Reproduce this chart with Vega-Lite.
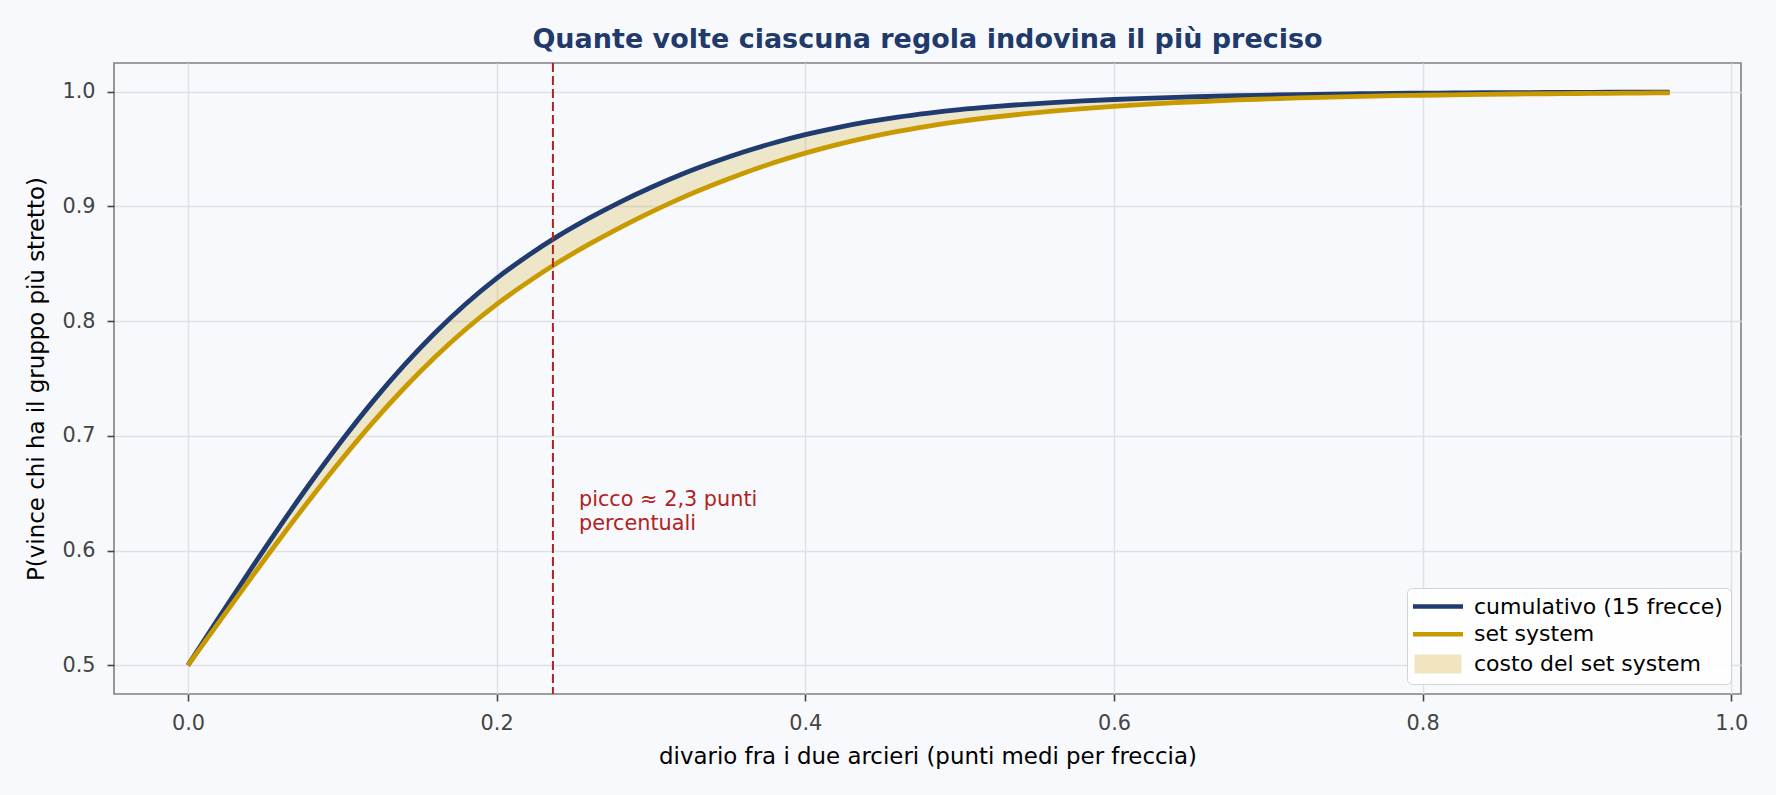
{
  "$schema": "https://vega.github.io/schema/vega-lite/v6.json",
  "width": 1627,
  "height": 631,
  "autosize": {"type": "none"},
  "padding": {"left": 114, "top": 63, "right": 35, "bottom": 101},
  "background": "#f7f9fc",
  "title": {
    "text": "Quante volte ciascuna regola indovina il più preciso",
    "font": "DejaVu Sans",
    "fontSize": 27,
    "fontWeight": "bold",
    "color": "#1f3a6b",
    "anchor": "middle",
    "baseline": "alphabetic",
    "offset": 13,
    "dy": 26
  },
  "config": {
    "view": {"stroke": "#808080", "strokeWidth": 1.6, "fill": "#f7f9fc"},
    "axis": {
      "labelFont": "DejaVu Sans",
      "labelFontSize": 20.8,
      "labelColor": "#444444",
      "tickColor": "#444444",
      "tickSize": 7,
      "tickWidth": 1.6,
      "labelPadding": 12,
      "titleFont": "DejaVu Sans",
      "titleFontSize": 22.9,
      "titleFontWeight": "normal",
      "titleColor": "#000000",
      "domain": false,
      "gridColor": "#dfe1e6",
      "gridWidth": 1.5
    },
    "legend": {
      "orient": "bottom-right",
      "offset": 10,
      "padding": 7.5,
      "fillColor": "rgba(255,255,255,0.85)",
      "strokeColor": "#d3d3d3",
      "cornerRadius": 5,
      "labelFont": "DejaVu Sans",
      "labelFontSize": 22,
      "labelColor": "#000000",
      "labelLimit": 400,
      "symbolSize": 625,
      "labelOffset": 37.5,
      "rowPadding": 5.7
    }
  },
  "datasets": {
    "curve": [
      {"d": 0.00, "cum": 0.5000, "set": 0.5000},
      {"d": 0.02, "cum": 0.5414, "set": 0.5374},
      {"d": 0.04, "cum": 0.5822, "set": 0.5745},
      {"d": 0.06, "cum": 0.6220, "set": 0.6110},
      {"d": 0.08, "cum": 0.6602, "set": 0.6463},
      {"d": 0.10, "cum": 0.6964, "set": 0.6801},
      {"d": 0.12, "cum": 0.7303, "set": 0.7120},
      {"d": 0.14, "cum": 0.7614, "set": 0.7415},
      {"d": 0.16, "cum": 0.7897, "set": 0.7685},
      {"d": 0.18, "cum": 0.8150, "set": 0.7929},
      {"d": 0.20, "cum": 0.8373, "set": 0.8146},
      {"d": 0.22, "cum": 0.8568, "set": 0.8338},
      {"d": 0.24, "cum": 0.8743, "set": 0.8513},
      {"d": 0.26, "cum": 0.8898, "set": 0.8671},
      {"d": 0.28, "cum": 0.9038, "set": 0.8816},
      {"d": 0.30, "cum": 0.9165, "set": 0.8950},
      {"d": 0.32, "cum": 0.9280, "set": 0.9074},
      {"d": 0.34, "cum": 0.9382, "set": 0.9186},
      {"d": 0.36, "cum": 0.9474, "set": 0.9289},
      {"d": 0.38, "cum": 0.9555, "set": 0.9382},
      {"d": 0.40, "cum": 0.9625, "set": 0.9464},
      {"d": 0.42, "cum": 0.9685, "set": 0.9536},
      {"d": 0.44, "cum": 0.9736, "set": 0.9599},
      {"d": 0.46, "cum": 0.9779, "set": 0.9654},
      {"d": 0.48, "cum": 0.9814, "set": 0.9700},
      {"d": 0.50, "cum": 0.9844, "set": 0.9741},
      {"d": 0.52, "cum": 0.9868, "set": 0.9775},
      {"d": 0.54, "cum": 0.9888, "set": 0.9804},
      {"d": 0.56, "cum": 0.9905, "set": 0.9830},
      {"d": 0.58, "cum": 0.9920, "set": 0.9852},
      {"d": 0.60, "cum": 0.9932, "set": 0.9872},
      {"d": 0.62, "cum": 0.9942, "set": 0.9889},
      {"d": 0.64, "cum": 0.9951, "set": 0.9904},
      {"d": 0.66, "cum": 0.9958, "set": 0.9916},
      {"d": 0.68, "cum": 0.9965, "set": 0.9928},
      {"d": 0.70, "cum": 0.9970, "set": 0.9937},
      {"d": 0.72, "cum": 0.9975, "set": 0.9946},
      {"d": 0.74, "cum": 0.9979, "set": 0.9953},
      {"d": 0.76, "cum": 0.9982, "set": 0.9959},
      {"d": 0.78, "cum": 0.9985, "set": 0.9965},
      {"d": 0.80, "cum": 0.9987, "set": 0.9969},
      {"d": 0.82, "cum": 0.9989, "set": 0.9973},
      {"d": 0.84, "cum": 0.9991, "set": 0.9977},
      {"d": 0.86, "cum": 0.9992, "set": 0.9980},
      {"d": 0.88, "cum": 0.9993, "set": 0.9982},
      {"d": 0.90, "cum": 0.9994, "set": 0.9984},
      {"d": 0.92, "cum": 0.9995, "set": 0.9986},
      {"d": 0.94, "cum": 0.9996, "set": 0.9988},
      {"d": 0.96, "cum": 0.9997, "set": 0.9990}
    ],
    "peak": [{"d": 0.2365, "gap_pp": 2.3}]
  },
  "layer": [
    {
      "data": {"name": "curve"},
      "mark": {"type": "area", "opacity": 0.2, "interpolate": "monotone"},
      "encoding": {
        "x": {
          "field": "d",
          "type": "quantitative",
          "scale": {"domain": [-0.0479, 1.0063], "nice": false, "zero": false},
          "axis": {
            "values": [0, 0.2, 0.4, 0.6, 0.8, 1.0],
            "format": ".1f",
            "titleY": 62.7,
            "titleBaseline": "middle"
          },
          "title": "divario fra i due arcieri (punti medi per freccia)"
        },
        "y": {
          "field": "set",
          "type": "quantitative",
          "scale": {"domain": [0.475, 1.025], "nice": false, "zero": false},
          "axis": {
            "values": [0.5, 0.6, 0.7, 0.8, 0.9, 1.0],
            "format": ".1f",
            "titleX": -78,
            "titleBaseline": "middle"
          },
          "title": "P(vince chi ha il gruppo più stretto)"
        },
        "y2": {"field": "cum"},
        "color": {"datum": "fill"}
      }
    },
    {
      "data": {"name": "curve"},
      "transform": [{"fold": ["cum", "set"], "as": ["serie", "p"]}],
      "mark": {"type": "line", "strokeWidth": 4.8, "strokeCap": "butt", "interpolate": "monotone"},
      "encoding": {
        "x": {"field": "d", "type": "quantitative", "title": "divario fra i due arcieri (punti medi per freccia)"},
        "y": {"field": "p", "type": "quantitative", "title": "P(vince chi ha il gruppo più stretto)"},
        "color": {
          "field": "serie",
          "type": "nominal",
          "scale": {"domain": ["cum", "set", "fill"], "range": ["#1f3b6f", "#c99a00", "#c99a00"]},
          "legend": {
            "title": null,
            "labelExpr": "datum.value === 'cum' ? 'cumulativo (15 frecce)' : datum.value === 'set' ? 'set system' : 'costo del set system'",
            "encode": {
              "symbols": {
                "update": {
                  "shape": {"signal": "datum.value === 'fill' ? 'M-0.8,-0.68H2.8V0.68H-0.8Z' : 'M-1,0H3'"},
                  "stroke": {"signal": "datum.value === 'cum' ? '#1f3b6f' : '#c99a00'"},
                  "strokeWidth": {"signal": "datum.value === 'fill' ? 2 : 4.5"},
                  "opacity": {"signal": "datum.value === 'fill' ? 0.24 : 1"},
                  "size": {"value": 625}
                }
              }
            }
          }
        }
      }
    },
    {
      "data": {"name": "peak"},
      "mark": {"type": "rule", "color": "#b22222", "strokeWidth": 2, "strokeDash": [9, 4]},
      "encoding": {
        "x": {"field": "d", "type": "quantitative"}
      }
    },
    {
      "data": {"name": "peak"},
      "mark": {
        "type": "text",
        "align": "left",
        "baseline": "middle",
        "dx": 26,
        "font": "DejaVu Sans",
        "fontSize": 20.8,
        "lineHeight": 24,
        "color": "#b22222"
      },
      "encoding": {
        "x": {"field": "d", "type": "quantitative"},
        "y": {"datum": 0.644},
        "text": {"value": ["picco ≈ 2,3 punti", "percentuali"]}
      }
    }
  ]
}
